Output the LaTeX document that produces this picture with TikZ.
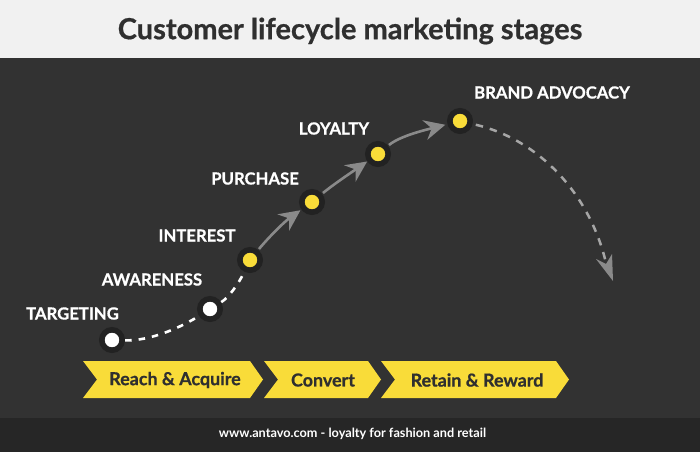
\documentclass[tikz,border=0pt]{standalone}
\usepackage{fontspec}
\setmainfont{Lato}
\newfontfamily\heavyface{Lato}[BoldFeatures={FakeBold=0.7}]
\usetikzlibrary{arrows.meta}
\definecolor{bgdark}{HTML}{323232}
\definecolor{foot}{HTML}{262626}
\definecolor{head}{HTML}{F1F1F1}
\definecolor{ylw}{HTML}{F9DC39}
\definecolor{ink}{HTML}{2F2F2F}
\definecolor{arrowgrey}{HTML}{8A8A8A}
\definecolor{dashgrey}{HTML}{A6A6A6}
\definecolor{ringc}{HTML}{222222}
\tikzset{
  x=1pt,y=-1pt,
  stagewhite/.style={circle,fill=white,draw=ringc,line width=5.6pt,minimum size=20.4pt,inner sep=0pt,outer sep=0pt},
  stageyellow/.style={stagewhite,fill=ylw},
  stagelabel/.style={text=white,font=\heavyface\fontsize{16.7}{18}\selectfont\bfseries,inner sep=0pt},
  bandlabel/.style={text=ink,font=\heavyface\fontsize{17.9}{20}\selectfont\bfseries,inner sep=0pt},
  chevronshape/.style={fill=ylw},
  whitedash/.style={white,line width=2.6pt,dash pattern=on 6.5pt off 7pt},
  greyarrow/.style={arrowgrey,line width=2.6pt,-{Stealth[length=21pt,width=20pt,inset=7pt]}},
  greydash/.style={dashgrey,line width=2.5pt,dash pattern=on 7.5pt off 7pt},
}
\begin{document}
\begin{tikzpicture}
\useasboundingbox (0,0) rectangle (700,452);
\fill[bgdark] (0,0) rectangle (700,452);
\fill[head] (0,0) rectangle (700,58);
\fill[foot] (0,418) rectangle (700,452);
\node[text=ink,font=\heavyface\fontsize{29}{32}\selectfont\bfseries,inner sep=0pt] (title) at (350,31) {Customer lifecycle marketing stages};
\node[text=white,font=\fontsize{12.7}{14}\selectfont\bfseries,inner sep=0pt] (footer) at (352.5,434) {www.antavo.com - loyalty for fashion and retail};

\fill[chevronshape] (83,361) -- (250,361) -- (263,379.5) -- (250,398) -- (83,398) -- (97,379.5) -- cycle;
\fill[chevronshape] (264,361) -- (368,361) -- (381,379.5) -- (368,398) -- (264,398) -- (278,379.5) -- cycle;
\fill[chevronshape] (381,361) -- (556,361) -- (569,379.5) -- (556,398) -- (381,398) -- (395,379.5) -- cycle;
\node[bandlabel] (reach) at (175,380) {Reach \& Acquire};
\node[bandlabel] (convert) at (323,380) {Convert};
\node[bandlabel] (retain) at (477,380) {Retain \& Reward};

\node[stagewhite] (t) at (112,340) {};
\node[stagewhite] (a) at (210,309) {};
\node[stageyellow] (i) at (250,260) {};
\node[stageyellow] (p) at (312,202) {};
\node[stageyellow] (l) at (378,154) {};
\node[stageyellow] (b) at (460,121) {};
\coordinate (endpt) at (606,263);

\node[stagelabel] (lt) at (72.5,313.5) {TARGETING};
\node[stagelabel] (la) at (152,279.5) {AWARENESS};
\node[stagelabel] (li) at (197,235.5) {INTEREST};
\node[stagelabel] (lp) at (255,178.5) {PURCHASE};
\node[stagelabel] (ll) at (334,128.5) {LOYALTY};
\node[stagelabel] (lb) at (552,92.5) {BRAND ADVOCACY};

\draw[whitedash,shorten <=3pt,shorten >=2pt] (t) .. controls (150,341) and (180,328) .. (a);
\draw[whitedash,shorten <=3pt,shorten >=3pt] (a) .. controls (228,298) and (238,285) .. (i);
\draw[greyarrow,shorten <=4pt,shorten >=4pt] (i) .. controls (268,238) and (284,222) .. (p);
\draw[greyarrow,shorten <=4pt,shorten >=3pt] (p) .. controls (334,184) and (352,172) .. (l);
\draw[greyarrow,shorten <=4pt,shorten >=5pt] (l) .. controls (400,136) and (425,130) .. (b);
\draw[greydash,shorten <=6pt] (b) .. controls (540,140) and (590,195) .. (endpt);
\fill[arrowgrey] (613,281) -- (596,259) -- (606,264) -- (612,254) -- cycle;
\end{tikzpicture}
\end{document}
